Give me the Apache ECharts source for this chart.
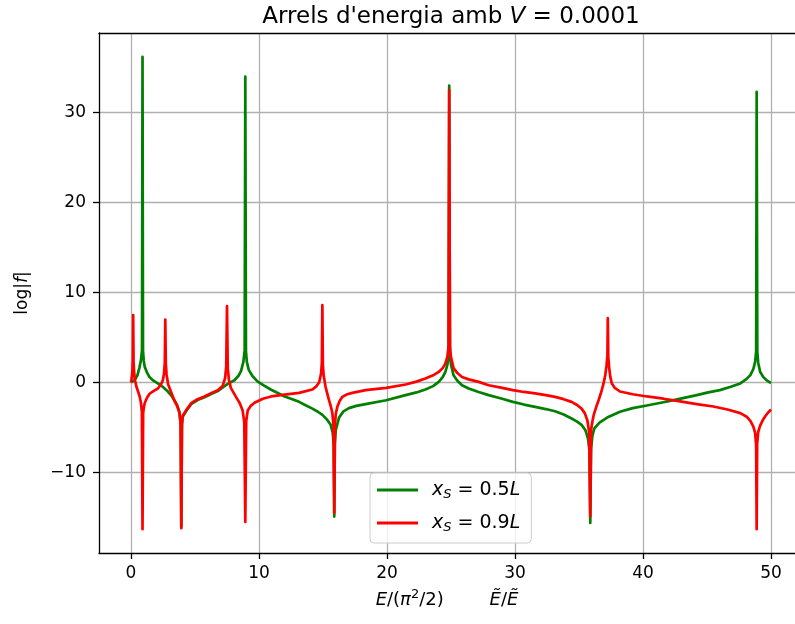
<!DOCTYPE html>
<html>
<head>
<meta charset="utf-8">
<script src="https://cdn.jsdelivr.net/npm/echarts@6/dist/echarts.min.js"></script>
<style>
  html, body { margin: 0; padding: 0; background: #fff; }
  #chart { width: 795px; height: 624px; }
</style>
</head>
<body>
<div id="chart"></div>
<script>
// Energy axis E/(pi^2/2) and log|f| for the symmetric source position x_S = 0.5L
const greenE = [
  0, 0.3, 0.5, 0.65, 0.78, 0.86, 0.9, 0.94, 1.0, 1.07, 1.25, 1.45, 1.75, 2.1, 2.5, 2.88, 3.15, 3.4, 3.6, 3.79, 3.88,
  3.93, 3.98, 4.04, 4.3, 4.7, 5.2, 5.74, 6.3, 6.78, 7.17, 7.56, 8.08, 8.4, 8.6, 8.78, 8.88,
  8.93, 8.98, 9.05, 9.2, 9.5, 9.9, 10.4, 10.95, 11.5, 12.0, 12.5, 13.13, 13.6, 14.17, 14.6, 14.95, 15.3, 15.6, 15.76, 15.84,
  15.88, 15.92, 16.0, 16.25, 16.6, 17.03, 17.6, 18.33, 19.94, 21.45, 22.3, 23.0, 23.6, 24.04, 24.35, 24.56, 24.72, 24.81,
  24.86, 24.92, 25.0, 25.2, 25.5, 25.86, 26.38, 27.16, 27.94, 29.0, 29.83, 30.7, 31.57, 32.4, 33.13, 33.8, 34.42, 34.85, 35.2, 35.5, 35.7, 35.82,
  35.88, 35.94, 36.05, 36.2, 36.6, 37.2, 38.2, 39.2, 40.3, 41.4, 42.4, 43.3, 44.2, 45.1, 46.0, 46.8, 47.6, 48.1, 48.4, 48.62, 48.76, 48.84,
  48.88, 48.93, 49.0, 49.15, 49.4, 49.7, 50.0
];
const greenLog = [
  0, 0.3, 0.8, 1.6, 2.5, 3.6, 36.2, 3.5, 2.4, 1.75, 1.1, 0.6, 0.2, -0.1, -0.5, -1.0, -1.45, -2.0, -2.5, -3.3, -4.6,
  -16.0, -4.7, -3.8, -3.2, -2.4, -1.95, -1.65, -1.25, -0.95, -0.55, -0.15, 0.25, 0.75, 1.3, 2.3, 3.6,
  34.0, 3.5, 2.3, 1.4, 0.7, 0.1, -0.35, -0.8, -1.2, -1.55, -1.8, -2.15, -2.5, -2.9, -3.25, -3.6, -4.1, -4.7, -5.6, -7.0,
  -14.9, -6.8, -5.3, -3.9, -3.2, -2.85, -2.6, -2.4, -1.97, -1.4, -1.1, -0.78, -0.4, 0.07, 0.6, 1.18, 2.0, 3.2,
  33.0, 3.1, 2.0, 0.8, 0.2, -0.3, -0.67, -1.05, -1.4, -1.8, -2.15, -2.45, -2.7, -2.95, -3.2, -3.55, -4.0, -4.35, -4.7, -5.3, -6.2, -7.6,
  -15.6, -7.4, -5.9, -5.1, -4.45, -3.9, -3.25, -2.85, -2.55, -2.25, -1.95, -1.68, -1.4, -1.1, -0.85, -0.5, -0.1, 0.4, 0.85, 1.5, 2.3, 3.5,
  32.3, 3.4, 2.2, 1.2, 0.6, 0.2, -0.07
];

// Same quantities for the off-centre source position x_S = 0.9L
const redE = [
  0, 0.06, 0.11, 0.15, 0.17, 0.2, 0.25, 0.32, 0.42, 0.55, 0.68, 0.78, 0.85,
  0.9, 0.95, 1.0, 1.07, 1.25, 1.45, 1.75, 2.1, 2.35, 2.49, 2.58, 2.64,
  2.68, 2.72, 2.78, 2.9, 3.1, 3.25, 3.4, 3.6, 3.79, 3.88,
  3.93, 3.98, 4.04, 4.3, 4.7, 5.2, 5.74, 6.3, 6.78, 7.17, 7.35, 7.44,
  7.5, 7.56, 7.65, 7.8, 8.2, 8.5, 8.72, 8.85,
  8.93, 9.0, 9.12, 9.35, 9.65, 10.3, 10.95, 12.0, 13.13, 14.17, 14.5, 14.7, 14.85, 14.91,
  14.95, 14.99, 15.05, 15.2, 15.33, 15.47, 15.62, 15.73, 15.82,
  15.88, 15.94, 16.0, 16.12, 16.3, 16.5, 16.9, 17.29, 18.33, 19.94, 21.45, 22.3, 23.0, 23.6, 24.04, 24.35, 24.56, 24.72, 24.81,
  24.86, 24.92, 25.0, 25.2, 25.5, 25.86, 26.38, 27.16, 27.94, 29.0, 29.83, 30.7, 31.57, 32.4, 33.13, 33.8, 34.42, 34.85, 35.2, 35.45, 35.65, 35.8,
  35.88, 35.95, 36.05, 36.15, 36.35, 36.53, 36.75, 36.92, 37.05, 37.15, 37.22,
  37.25, 37.29, 37.36, 37.45, 37.56, 37.8, 38.2, 39.2, 40.3, 41.6, 42.9, 44.2, 45.5, 46.6, 47.6, 48.1, 48.4, 48.62, 48.76, 48.84,
  48.88, 48.92, 49.0, 49.15, 49.35, 49.55, 49.8, 50.0
];
const redLog = [
  0, 0.5, 1.3, 2.6, 7.5, 2.3, 1.0, 0.2, -0.44, -1.0, -1.55, -2.3, -3.3,
  -16.3, -3.4, -2.8, -2.3, -1.7, -1.25, -0.95, -0.67, -0.2, 0.25, 1.0, 2.2,
  7.0, 2.1, 0.9, -0.2, -0.95, -1.5, -2.05, -2.6, -3.4, -4.7,
  -16.2, -4.6, -3.7, -3.1, -2.3, -1.85, -1.55, -1.15, -0.85, -0.35, 0.5, 1.8,
  8.5, 1.6, 0.3, -0.6, -1.6, -2.3, -3.1, -4.4,
  -15.5, -4.3, -3.1, -2.6, -2.25, -1.8, -1.55, -1.35, -1.15, -0.78, -0.4, 0.03, 1.0, 2.2,
  8.6, 2.0, 0.8, -0.48, -1.2, -1.97, -2.7, -3.4, -4.8,
  -14.5, -4.6, -3.5, -2.7, -2.05, -1.6, -1.3, -1.15, -0.85, -0.6, -0.22, 0.1, 0.44, 0.8, 1.18, 1.6, 2.1, 2.9, 4.0,
  32.5, 3.9, 2.8, 1.6, 1.05, 0.62, 0.35, 0.07, -0.3, -0.6, -0.85, -1.05, -1.2, -1.4, -1.6, -1.85, -2.15, -2.5, -2.9, -3.4, -4.2, -5.6,
  -14.9, -5.2, -4.3, -3.6, -2.7, -1.97, -1.0, -0.1, 0.8, 1.9, 3.0,
  7.15, 2.8, 1.6, 0.6, -0.07, -0.6, -1.0, -1.3, -1.55, -1.8, -2.1, -2.4, -2.67, -3.0, -3.4, -3.8, -4.3, -4.9, -5.6, -7.0,
  -16.3, -6.8, -5.5, -4.8, -4.2, -3.75, -3.3, -3.0
];

const xTicks = [0, 10, 20, 30, 40, 50];
const yTicks = [-10, 0, 10, 20, 30];

// Visible axis window: the frame runs past the right edge of the canvas
const X_MIN = -2.5, X_MAX = 51.875;
const Y_MIN = -18.95, Y_MAX = 38.85;

const FONT = 'DejaVu Sans';

const pairs = (xs, ys) => xs.map((x, i) => [x, ys[i]]);

const legendLabels = {
  green: '{i|x}{sub|S} = 0.5{i|L}',
  red: '{i|x}{sub|S} = 0.9{i|L}'
};

const spine = { color: '#000', width: 1.3 };
const gridLine = { color: '#b0b0b0', width: 1.3 };

const chart = echarts.init(document.getElementById('chart'), null, { renderer: 'canvas' });

chart.setOption({
  animation: false,
  backgroundColor: '#ffffff',
  title: {
    text: "Arrels d'energia amb {i|V} = 0.0001",
    left: 451,
    top: 6,
    textAlign: 'center',
    padding: 0,
    textStyle: {
      fontFamily: FONT,
      fontSize: 23,
      fontWeight: 'normal',
      color: '#000',
      rich: {
        i: { fontFamily: FONT, fontSize: 23, fontStyle: 'italic', color: '#000' }
      }
    }
  },
  grid: {
    left: 99,
    right: 0,
    top: 33,
    bottom: 71,
    show: false
  },
  legend: {
    orient: 'vertical',
    left: 370,
    top: 473,
    padding: [6, 11, 9, 7],
    itemGap: 11,
    itemWidth: 41,
    itemHeight: 3,
    icon: 'rect',
    backgroundColor: 'rgba(255,255,255,0.8)',
    borderColor: '#cccccc',
    borderWidth: 1,
    borderRadius: 4,
    data: ['green', 'red'],
    formatter: (name) => legendLabels[name],
    textStyle: {
      fontFamily: FONT,
      fontSize: 19,
      lineHeight: 22,
      color: '#000',
      padding: [0, 0, 0, 9],
      rich: {
        i: { fontFamily: FONT, fontSize: 19, fontStyle: 'italic', lineHeight: 22, verticalAlign: 'middle' },
        sub: { fontFamily: FONT, fontSize: 13, fontStyle: 'italic', lineHeight: 22, verticalAlign: 'bottom' }
      }
    }
  },
  xAxis: [
    {
      type: 'value',
      min: X_MIN,
      max: X_MAX,
      name: '{i|E}/({i|π}{sup|2}/2)        {i|Ẽ}/{i|Ẽ}',
      nameLocation: 'middle',
      nameGap: 35,
      nameTextStyle: {
        fontFamily: FONT,
        fontSize: 18,
        color: '#000',
        rich: {
          i: { fontFamily: FONT, fontSize: 18, fontStyle: 'italic', lineHeight: 24, verticalAlign: 'middle' },
          sup: { fontFamily: FONT, fontSize: 13, lineHeight: 24, verticalAlign: 'top' }
        }
      },
      axisLine: { show: true, onZero: false, lineStyle: spine },
      axisTick: { show: true, length: 6, customValues: xTicks, lineStyle: spine },
      axisLabel: {
        customValues: xTicks,
        margin: 12,
        fontFamily: FONT,
        fontSize: 17,
        color: '#000'
      },
      splitLine: { show: true, lineStyle: gridLine }
    },
    {
      // top spine of the frame
      type: 'value',
      position: 'top',
      min: X_MIN,
      max: X_MAX,
      axisLine: { show: true, onZero: false, lineStyle: spine },
      axisTick: { show: false },
      axisLabel: { show: false },
      splitLine: { show: false }
    }
  ],
  yAxis: {
    type: 'value',
    min: Y_MIN,
    max: Y_MAX,
    name: 'log|{i|f}|',
    nameLocation: 'middle',
    nameRotate: 90,
    nameGap: 68,
    nameTextStyle: {
      fontFamily: FONT,
      fontSize: 17,
      color: '#000',
      rich: {
        i: { fontFamily: FONT, fontSize: 17, fontStyle: 'italic' }
      }
    },
    axisLine: { show: true, onZero: false, lineStyle: spine },
    axisTick: { show: true, length: 6, customValues: yTicks, lineStyle: spine },
    axisLabel: {
      customValues: yTicks,
      margin: 13,
      fontFamily: FONT,
      fontSize: 17,
      color: '#000',
      formatter: (v) => (v < 0 ? '\u2212' + Math.abs(v) : String(v))
    },
    splitLine: { show: true, lineStyle: gridLine }
  },
  series: [
    {
      name: 'green',
      type: 'line',
      xAxisIndex: 0,
      data: pairs(greenE, greenLog),
      symbol: 'none',
      showSymbol: false,
      smooth: false,
      lineStyle: { color: '#008000', width: 2.7, join: 'round' },
      itemStyle: { color: '#008000' },
      z: 2
    },
    {
      name: 'red',
      type: 'line',
      xAxisIndex: 0,
      data: pairs(redE, redLog),
      symbol: 'none',
      showSymbol: false,
      smooth: false,
      lineStyle: { color: '#ff0000', width: 2.7, join: 'round' },
      itemStyle: { color: '#ff0000' },
      z: 3
    }
  ]
});
</script>
</body>
</html>
